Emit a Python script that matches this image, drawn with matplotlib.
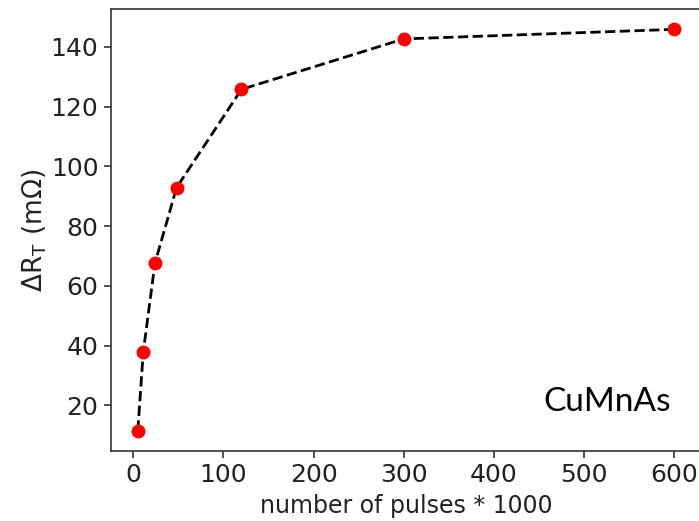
import matplotlib
matplotlib.use("Agg")
import matplotlib.pyplot as plt

# ---- Data: resistance change vs. number of pulses ----
pulses_k = [5, 11, 24, 48, 120, 300, 600]
delta_r = [11.5, 37.7, 67.6, 92.9, 125.8, 142.7, 145.9]
x_ticks = [0, 100, 200, 300, 400, 500, 600]
y_ticks = [20, 40, 60, 80, 100, 120, 140]

fig = plt.figure(figsize=(6.99, 5.21), dpi=100)
# right edge sits just past the figure border
ax = fig.add_axes([111 / 699, (521 - 450.7) / 521, 590 / 699, 441.4 / 521])

ax.plot(pulses_k, delta_r, "k--", lw=2.0, dashes=(3.7, 1.6), zorder=1)
ax.plot(pulses_k, delta_r, "o", color="red", ms=9, zorder=2)

ax.set_xticks(x_ticks)
ax.set_yticks(y_ticks)
ax.tick_params(labelsize=18, length=5, width=1.1, colors="#222222", pad=4)
for lbl in ax.get_xticklabels() + ax.get_yticklabels():
    lbl.set_family("DejaVu Sans Condensed")
for s in ax.spines.values():
    s.set_linewidth(1.2)
    s.set_color("#333333")

ax.set_xlabel("number of pulses * 1000", fontsize=17, color="#222222", labelpad=5)
ax.set_ylabel(r"$\Delta$R$_\mathrm{T}$ (m$\Omega$)", fontsize=19,
              color="#222222", labelpad=1)

fig.text(607 / 699, 1 - 402 / 521, "CuMnAs", fontsize=24, family="Lato",
         ha="center", va="center", color="black")

fig.savefig("out.png", dpi=100)
